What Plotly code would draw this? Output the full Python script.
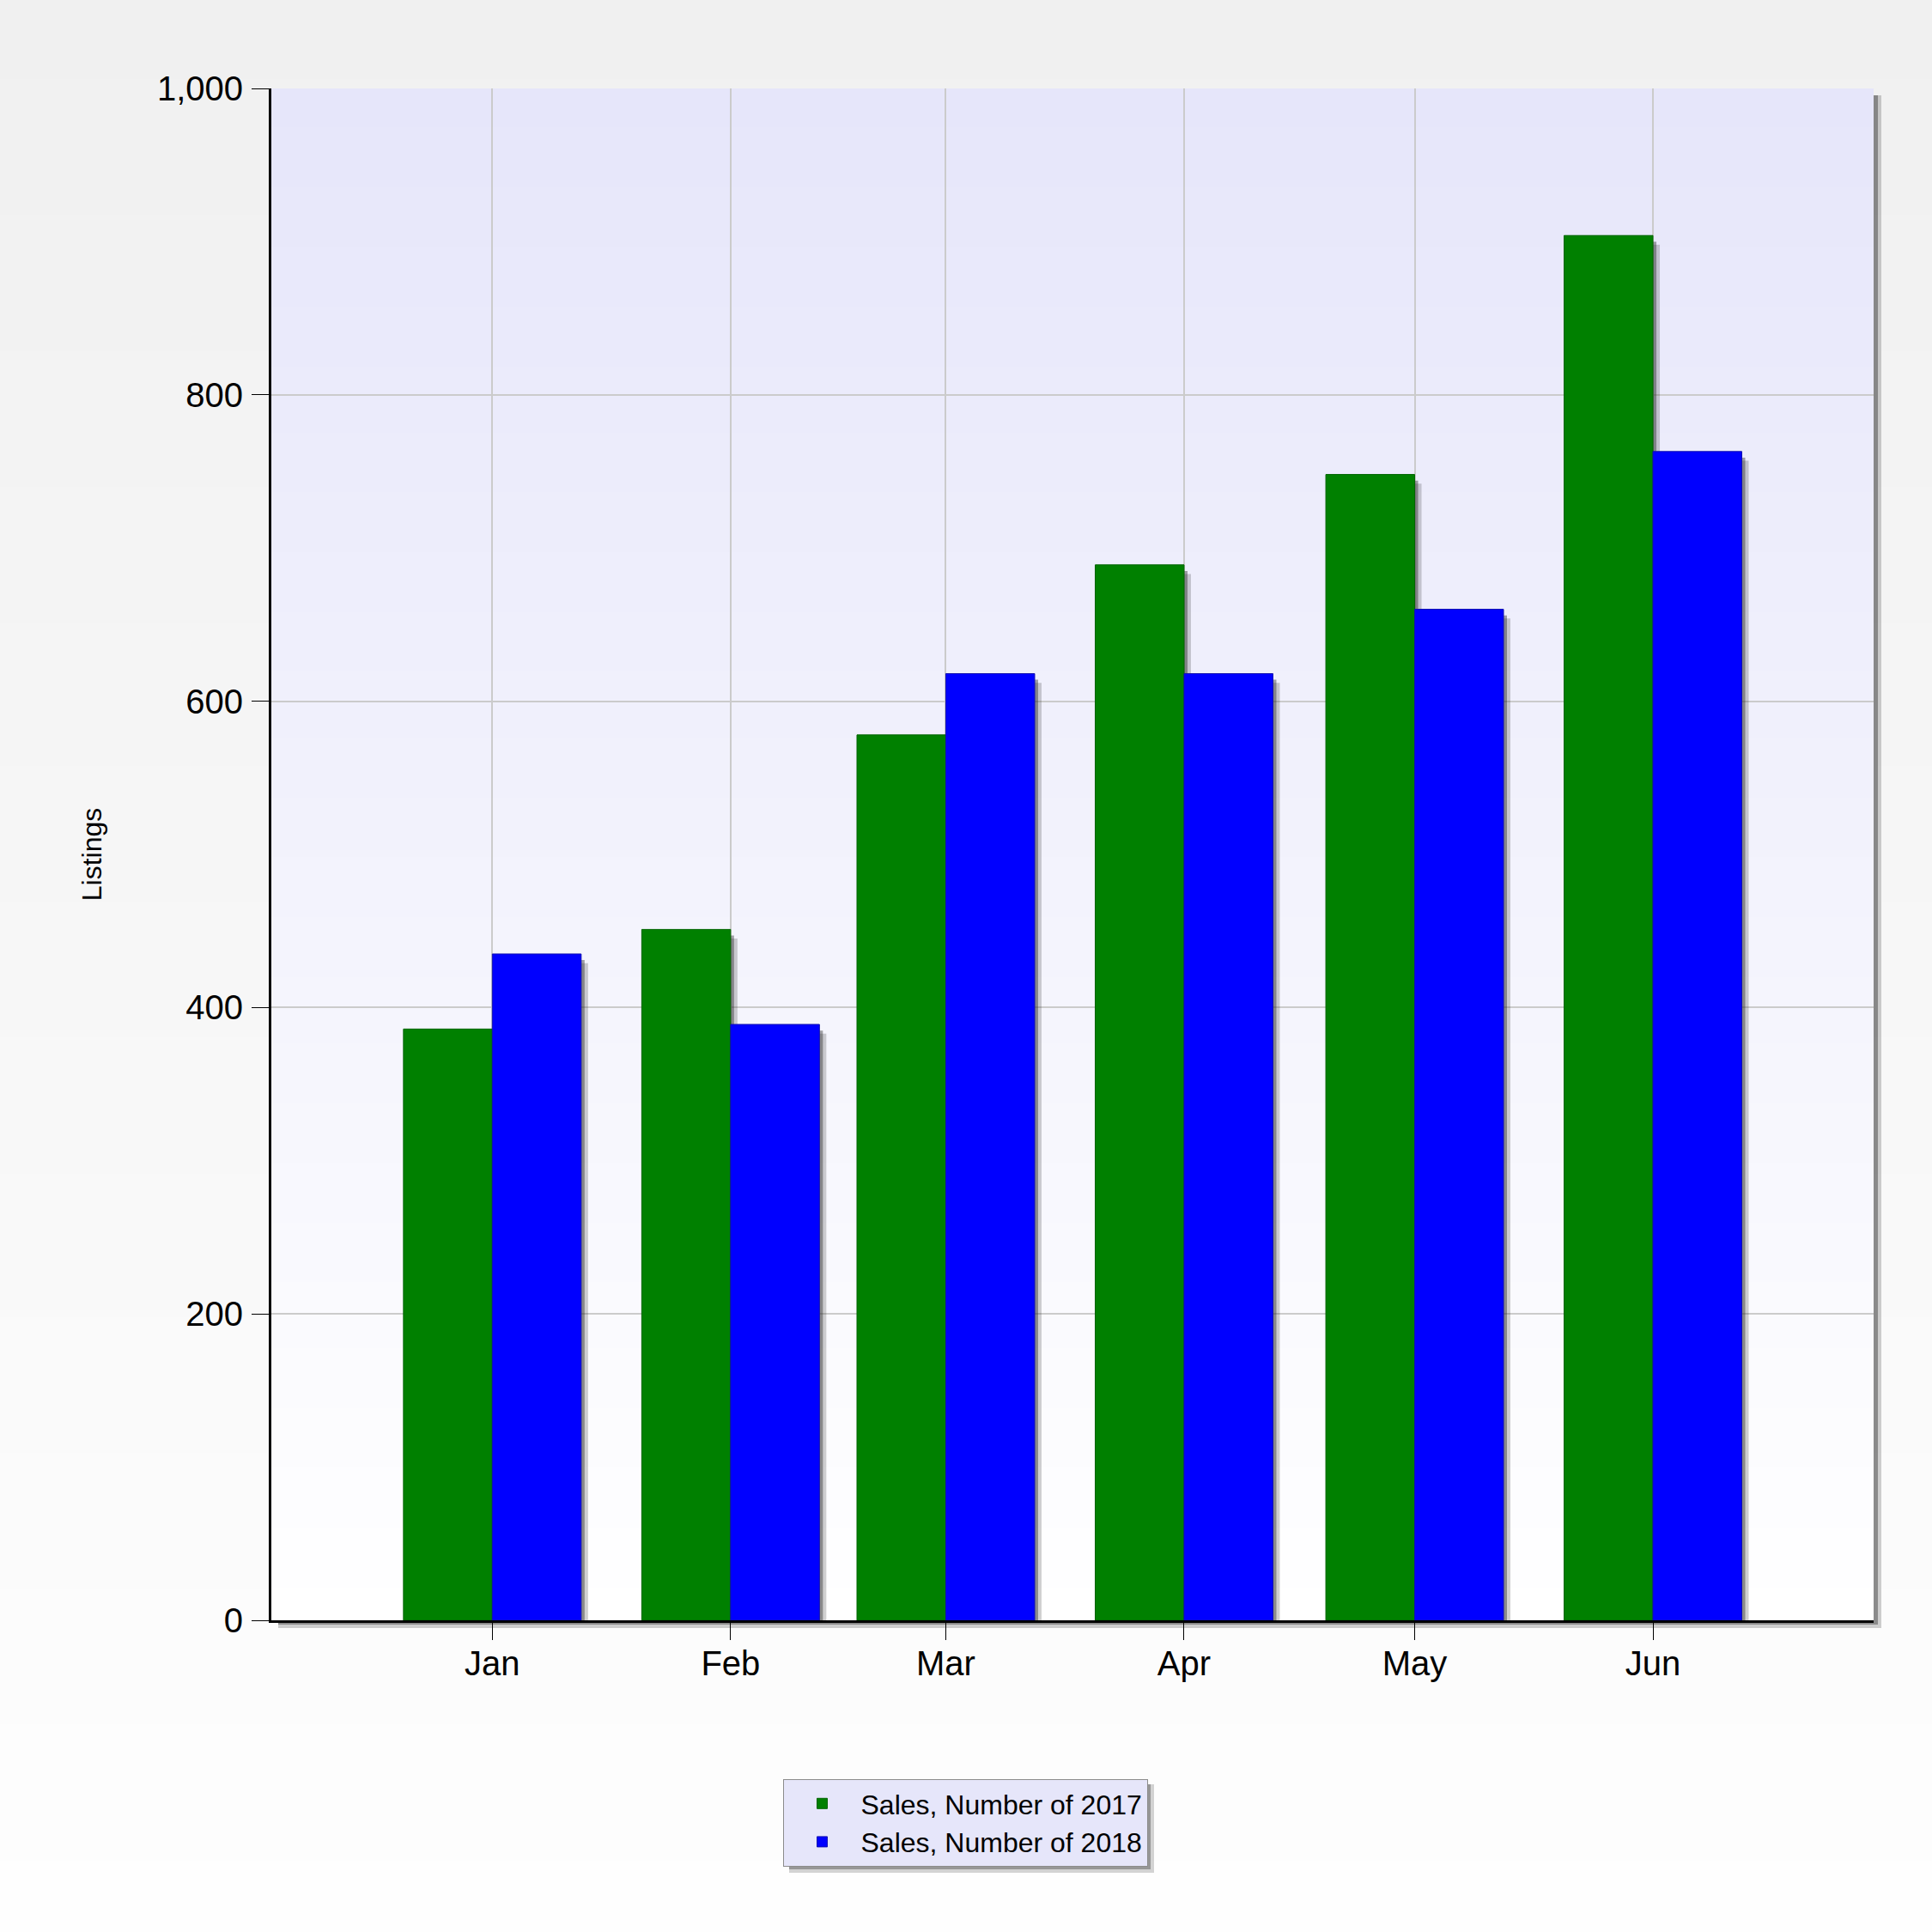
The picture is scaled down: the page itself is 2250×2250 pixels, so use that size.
import base64
import struct
import zlib

import plotly.graph_objects as go

# ---------------- data ----------------
months = ["Jan", "Feb", "Mar", "Apr", "May", "Jun"]
month_dates = ["2018-01-01", "2018-02-01", "2018-03-01", "2018-04-01", "2018-05-01", "2018-06-01"]
sales_2017 = [386, 451, 578, 689, 748, 904]
sales_2018 = [435, 389, 618, 618, 660, 763]
series_names = ["Sales, Number of 2017", "Sales, Number of 2018"]
series_colors = ["#008000", "#0000FF"]
y_tick_values = [0, 200, 400, 600, 800, 1000]

# ---------------- geometry / style ----------------
W, H = 2250, 2250
M_L, M_R, M_T, M_B = 316, 68, 103, 363
PW, PH = W - M_L - M_R, H - M_T - M_B
DAY = 86400000
X_SPAN = 208.45 * DAY          # width of the x range below
PX = X_SPAN / PW               # one pixel in x-axis units
BAR_W = 11.56 * DAY
FONT = "Liberation Sans, Arial, sans-serif"


def grad_png(top, bottom, h=256, w=2):
    raw = b""
    for i in range(h):
        t = i / (h - 1)
        c = bytes(round(top[k] + (bottom[k] - top[k]) * t) for k in range(3))
        raw += b"\x00" + c * w

    def chunk(tag, data):
        return (struct.pack(">I", len(data)) + tag + data
                + struct.pack(">I", zlib.crc32(tag + data) & 0xFFFFFFFF))

    png = (b"\x89PNG\r\n\x1a\n"
           + chunk(b"IHDR", struct.pack(">IIBBBBB", w, h, 8, 2, 0, 0, 0))
           + chunk(b"IDAT", zlib.compress(raw))
           + chunk(b"IEND", b""))
    return "data:image/png;base64," + base64.b64encode(png).decode()


def px_x(p):
    return (p - M_L) / PW


def px_y(p):
    return (M_T + PH - p) / PH


page_bg = grad_png((240, 240, 240), (254, 254, 254))
plot_bg = grad_png((230, 230, 250), (255, 255, 255))

fig = go.Figure()

# soft drop shadows of the bars (derived from the data)
for vals, off in ((sales_2017, -BAR_W), (sales_2018, 0)):
    for dx, dy, alpha in ((8, 6, 0.22), (4, 4, 0.42)):
        fig.add_trace(go.Bar(
            x=month_dates, y=[v - dy for v in vals],
            width=BAR_W, offset=off + dx * PX,
            marker=dict(color=f"rgba(40,40,40,{alpha})", line=dict(width=0)),
            showlegend=False, hoverinfo="skip",
        ))

for vals, name, color, off, lc in ((sales_2017, series_names[0], series_colors[0], -BAR_W, "#006400"),
                                   (sales_2018, series_names[1], series_colors[1], 0, "#1010B0")):
    fig.add_trace(go.Bar(
        x=month_dates, y=vals, name=name,
        width=BAR_W, offset=off,
        marker=dict(color=color, line=dict(width=1, color=lc)),
    ))

# plot-area and legend shadows
shapes = []
for d, a in ((9, 0.22), (5, 0.40)):
    shapes.append(dict(type="rect", xref="paper", yref="paper", layer="below",
                       x0=1, x1=1 + d / PW, y0=-d / PH, y1=1 - 8 / PH,
                       fillcolor=f"rgba(40,40,40,{a})", line=dict(width=0)))
    shapes.append(dict(type="rect", xref="paper", yref="paper", layer="below",
                       x0=8 / PW, x1=1, y0=-d / PH, y1=0,
                       fillcolor=f"rgba(40,40,40,{a})", line=dict(width=0)))
for d, a in ((8, 0.20), (4, 0.35)):
    shapes.append(dict(type="rect", xref="paper", yref="paper", layer="below",
                       x0=px_x(913 + 6), x1=px_x(1336 + d), y0=px_y(2173 + d), y1=px_y(2072 + 6),
                       fillcolor=f"rgba(40,40,40,{a})", line=dict(width=0)))

images = [
    dict(source=page_bg, xref="paper", yref="paper", x=-M_L / PW, y=1 + M_T / PH,
         sizex=W / PW, sizey=H / PH, sizing="stretch", layer="below",
         xanchor="left", yanchor="top"),
    dict(source=plot_bg, xref="paper", yref="paper", x=0, y=1,
         sizex=1, sizey=1, sizing="stretch", layer="below",
         xanchor="left", yanchor="top"),
]

fig.update_layout(
    width=W, height=H,
    margin=dict(l=M_L, r=M_R, t=M_T, b=M_B, pad=0),
    paper_bgcolor="#F6F6F6",
    plot_bgcolor="rgba(0,0,0,0)",
    barmode="overlay",
    font=dict(family=FONT, color="black", size=40),
    images=images,
    shapes=shapes,
    showlegend=True,
    legend=dict(
        orientation="v",
        x=px_x(1124), xanchor="center",
        y=px_y(2072), yanchor="top",
        bgcolor="#E6E6FA", bordercolor="#8C8C8C", borderwidth=1,
        font=dict(family=FONT, size=32, color="black"),
        itemwidth=80,
        traceorder="normal",
    ),
    xaxis=dict(
        type="date",
        range=["2017-12-03 06:00", "2018-06-29 17:00"],
        tickvals=month_dates, ticktext=months,
        showgrid=True, gridcolor="#CBCBCB", gridwidth=2,
        showline=True, linecolor="black", linewidth=3,
        ticks="outside", ticklen=20, tickwidth=1, tickcolor="black",
        ticklabelstandoff=-7,
        tickfont=dict(family=FONT, size=40, color="black"),
        zeroline=False, fixedrange=True,
    ),
    yaxis=dict(
        range=[0, 1000],
        tickvals=y_tick_values, tickformat=",d",
        showgrid=True, gridcolor="#CBCBCB", gridwidth=2,
        showline=True, linecolor="black", linewidth=3,
        ticks="outside", ticklen=20, tickwidth=1, tickcolor="black",
        ticklabelstandoff=2,
        tickfont=dict(family=FONT, size=40, color="black"),
        title=dict(text="Listings", font=dict(family=FONT, size=32, color="black"), standoff=55),
        zeroline=False, fixedrange=True,
    ),
)

fig.write_html("out.html", config={"displayModeBar": False},
               post_script="document.body.style.margin='0px';")
